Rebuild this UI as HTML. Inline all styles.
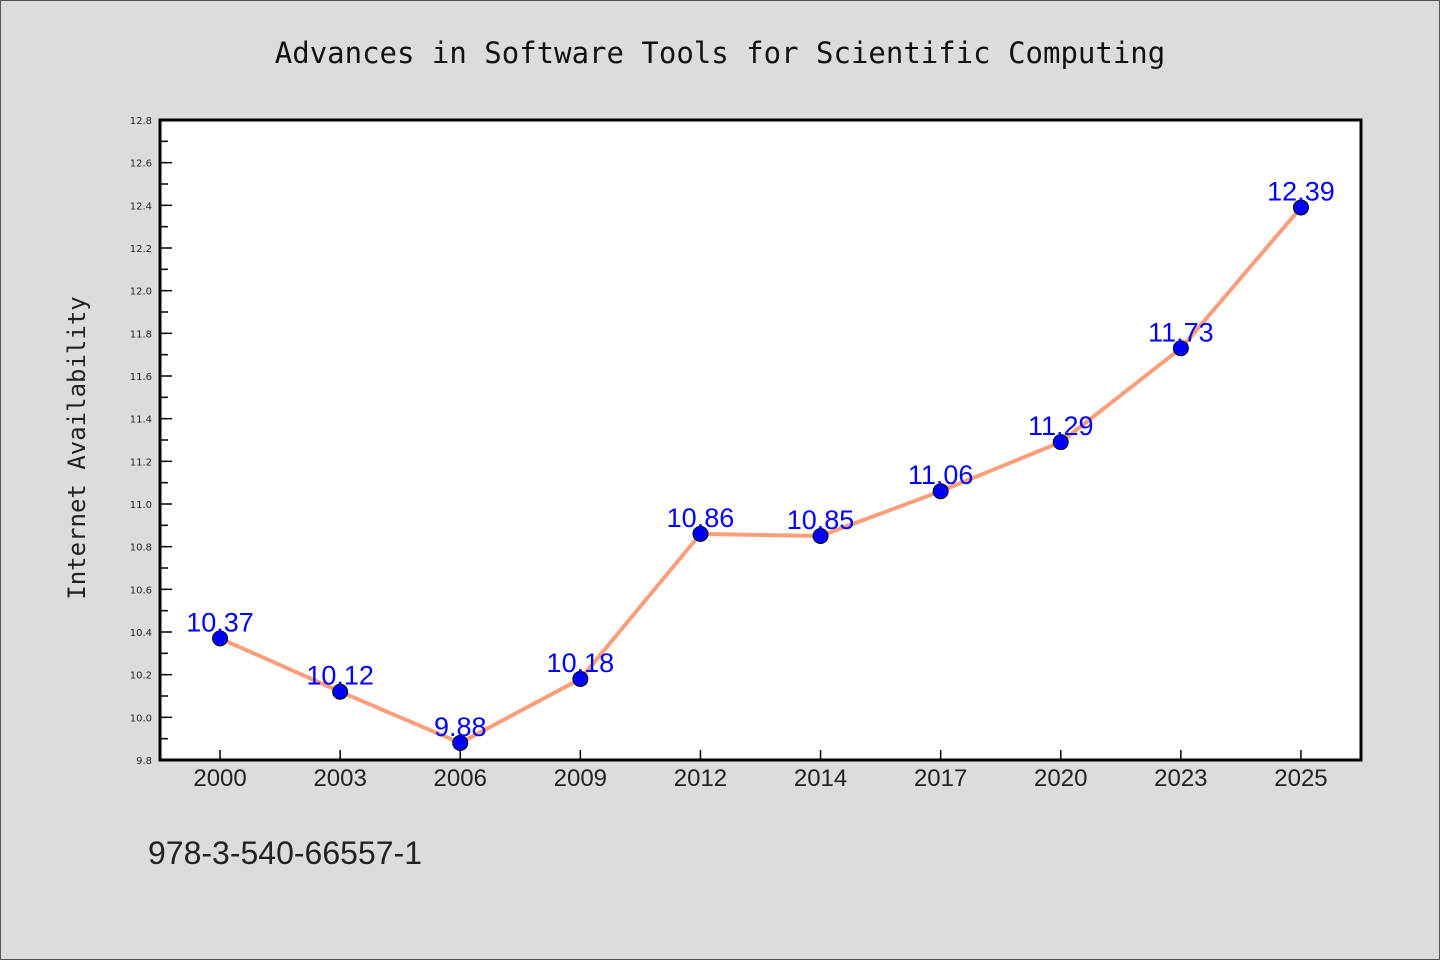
<!DOCTYPE html>
<html><head><meta charset="utf-8"><style>
body{margin:0;background:#dcdcdc}
svg{display:block}
</style></head><body>
<svg width="1440" height="960" xmlns="http://www.w3.org/2000/svg">
<rect x="0.5" y="0.5" width="1439" height="959" fill="#dcdcdc" stroke="#555"/>
<text x="720" y="63" text-anchor="middle" font-family="DejaVu Sans Mono, monospace" font-size="29" fill="#111">Advances in Software Tools for Scientific Computing</text>
<rect x="160" y="120" width="1201" height="640" fill="#fff"/>
<g id="ticks"></g>
<g id="marks"></g>
<rect x="160" y="120" width="1201" height="640" fill="none" stroke="#000" stroke-width="3"/>
<text transform="translate(85,448) rotate(-90)" text-anchor="middle" font-family="DejaVu Sans Mono, monospace" font-size="24" fill="#222">Internet Availability</text>
<text x="148" y="864" font-family="Liberation Sans, WenQuanYi Zen Hei, sans-serif" font-size="32" fill="#222">978-3-540-66557-1</text>
</svg>
<script>
const categories=["2000","2003","2006","2009","2012","2014","2017","2020","2023","2025"];
const values=[10.37,10.12,9.88,10.18,10.86,10.85,11.06,11.29,11.73,12.39];
const yTicks=[9.8,10.0,10.2,10.4,10.6,10.8,11.0,11.2,11.4,11.6,11.8,12.0,12.2,12.4,12.6,12.8];
const labels=["10.37","10.12","9.88","10.18","10.86","10.85","11.06","11.29","11.73","12.39"];
const NS="http://www.w3.org/2000/svg";
const L=160,R=1361,T=120,B=760,yMin=9.8,yMax=12.8;
const band=(R-L)/categories.length;
const x=i=>L+band*(i+0.5);
const y=v=>B-(v-yMin)/(yMax-yMin)*(B-T);
function mk(t,a,p){const e=document.createElementNS(NS,t);for(const k in a)e.setAttribute(k,a[k]);p.appendChild(e);return e;}
const tg=document.getElementById('ticks'),mg=document.getElementById('marks');
yTicks.forEach((v,i)=>{
 const l=mk('line',{x1:L,x2:L+12,y1:y(v),y2:y(v),stroke:'#000','stroke-width':1.5},tg);
 
 
 if(i<yTicks.length-1){const m=mk('line',{x1:L,x2:L+8,y1:y(v+0.1),y2:y(v+0.1),stroke:'#000','stroke-width':1.5},tg);
 
 }
 const t=mk('text',{x:L-8,y:y(v)+4,'text-anchor':'end','font-family':'DejaVu Sans, sans-serif','font-size':10,fill:'#222'},tg);
 t.textContent=v.toFixed(1);
 
 
});
categories.forEach((c,i)=>{
 const l=mk('line',{x1:x(i),x2:x(i),y1:B,y2:B-10,stroke:'#000','stroke-width':1.5},tg);
 
 
 const t=mk('text',{x:x(i),y:786,'text-anchor':'middle','font-family':'Liberation Sans, WenQuanYi Zen Hei, sans-serif','font-size':24,fill:'#222'},tg);
 t.textContent=c;
 
 
});
const pl=mk('polyline',{points:values.map((v,i)=>x(i)+','+y(v)).join(' '),fill:'none',stroke:'#fa9e7c','stroke-width':4,'stroke-linejoin':'round'},mg);


values.forEach((v,i)=>{
 const c=mk('circle',{cx:x(i),cy:y(v),r:7.5,fill:'#0000ff',stroke:'#000','stroke-width':1},mg);
 
 
});
values.forEach((v,i)=>{
 const t=mk('text',{x:x(i),y:y(v)-7,'text-anchor':'middle','font-family':'Liberation Sans, WenQuanYi Zen Hei, sans-serif','font-size':27,fill:'#0000ff'},mg);
 t.textContent=labels[i];
 
 
});
</script>
</body></html>
